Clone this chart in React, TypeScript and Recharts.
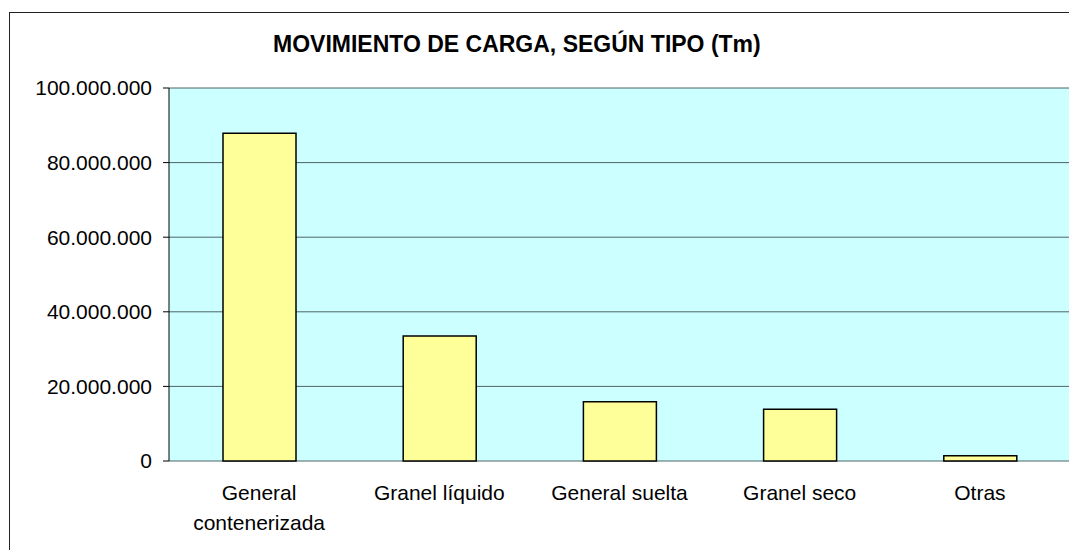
import { Bar, BarChart, CartesianGrid, XAxis, YAxis } from "recharts";

const categories = [
  "General contenerizada",
  "Granel líquido",
  "General suelta",
  "Granel seco",
  "Otras",
];
const toneladas = [87900000, 33500000, 15900000, 13900000, 1400000];
const yTicks = [0, 20000000, 40000000, 60000000, 80000000, 100000000];
const edgeTicks = [0, 1, 2, 3, 4, 5];

const data = categories.map((tipo, i) => ({ tipo, valor: toneladas[i] }));

const font = "'Liberation Sans', Arial, sans-serif";

const formatMiles = (v: number) =>
  String(v).replace(/\B(?=(\d{3})+(?!\d))/g, ".");

// wrap a label into lines no wider than maxWidth (measured with canvas)
function wrapLabel(label: string, maxWidth: number) {
  const ctx = document.createElement("canvas").getContext("2d");
  if (!ctx) return [label];
  ctx.font = `21px ${font}`;
  const lines: string[] = [];
  let line = "";
  for (const word of label.split(" ")) {
    const next = line ? line + " " + word : word;
    if (line && ctx.measureText(next).width > maxWidth) {
      lines.push(line);
      line = word;
    } else {
      line = next;
    }
  }
  if (line) lines.push(line);
  return lines;
}

function CategoryTick(props: any) {
  const { x, y, payload } = props;
  const lines = wrapLabel(String(payload.value), 172);
  return (
    <text
      x={x}
      y={y + 31}
      textAnchor="middle"
      fontSize={21}
      fontFamily={font}
      fill="#000"
    >
      {lines.map((l, i) => (
        <tspan key={i} x={x} dy={i === 0 ? 0 : 30}>
          {l}
        </tspan>
      ))}
    </text>
  );
}

export default function App() {
  return (
    <div
      style={{
        position: "relative",
        margin: "4px 0 0 1px",
        width: 1085,
        height: 560,
        border: "1px solid #222",
        background: "#fff",
        fontFamily: font,
      }}
    >
      <div
        style={{
          position: "absolute",
          top: 20,
          left: 263,
          fontSize: 23,
          lineHeight: "23px",
          fontWeight: "bold",
          whiteSpace: "nowrap",
        }}
      >
        MOVIMIENTO DE CARGA, SEGÚN TIPO (Tm)
      </div>
      <div style={{ position: "absolute", top: 0, left: 0 }}>
        <BarChart
          width={1080}
          height={540}
          data={data}
          margin={{ top: 75, right: 20, bottom: 32, left: 9 }}
          barSize={73}
        >
          <CartesianGrid
            vertical={false}
            stroke="#4f6464"
            fill="#CCFFFF"
            fillOpacity={1}
          />
          <XAxis
            xAxisId="edges"
            type="number"
            domain={[0, 5]}
            ticks={edgeTicks}
            tick={false}
            tickSize={6}
            height={0}
            axisLine={{ stroke: "#000" }}
            tickLine={{ stroke: "#000" }}
          />
          <XAxis
            dataKey="tipo"
            height={60}
            axisLine={false}
            tickLine={false}
            interval={0}
            tick={<CategoryTick />}
          />
          <YAxis
            width={150}
            domain={[0, 100000000]}
            ticks={yTicks}
            tickFormatter={formatMiles}
            tickSize={6}
            tickMargin={11}
            axisLine={{ stroke: "#000" }}
            tickLine={{ stroke: "#000" }}
            tick={{ fontSize: 21, fill: "#000", fontFamily: font }}
          />
          <YAxis
            yAxisId="r"
            orientation="right"
            width={0}
            domain={[0, 1]}
            tick={false}
            tickLine={false}
            axisLine={{ stroke: "#808080" }}
          />
          <Bar
            dataKey="valor"
            fill="#FFFF99"
            stroke="#000"
            strokeWidth={1.5}
            isAnimationActive={false}
          />
        </BarChart>
      </div>
    </div>
  );
}
